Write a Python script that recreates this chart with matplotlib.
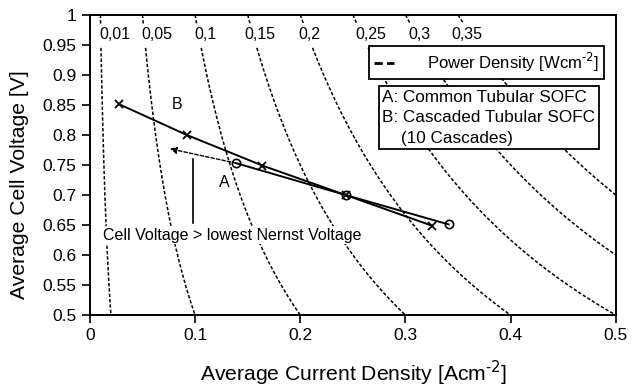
"""
Cell voltage vs current density, common vs cascaded tubular SOFC,
with iso-power-density lines in the background.
"""

import numpy as np
import matplotlib
matplotlib.use('Agg')
import matplotlib.pyplot as plt
from matplotlib.lines import Line2D
from matplotlib.ticker import FormatStrFormatter, MultipleLocator

plt.rcParams['font.family'] = ['Liberation Sans', 'DejaVu Sans']

# ── DATA ─────────────────────────────────────────────────────────────────────

# A: common tubular SOFC (circles)
i_a = [0.139, 0.243, 0.341]
v_a = [0.753, 0.700, 0.651]

# B: cascaded tubular SOFC, 10 cascades (crosses)
i_b = [0.028, 0.092, 0.164, 0.243, 0.325]
v_b = [0.851, 0.800, 0.749, 0.700, 0.649]

# power density iso-lines [W/cm2] and their label positions (top row)
power_levels = [0.01, 0.05, 0.1, 0.15, 0.2, 0.25, 0.3, 0.35]
power_labels = ['0,01', '0,05', '0,1', '0,15', '0,2', '0,25', '0,3', '0,35']
label_x      = [0.024, 0.064, 0.110, 0.162, 0.209, 0.267, 0.313, 0.358]

# ── PLOT ─────────────────────────────────────────────────────────────────────

fig = plt.figure(figsize=(6.33, 3.90), dpi=100)
ax = fig.add_axes([0.142, 0.192, 0.831, 0.770])

# iso-power lines P = i * V, broken where the labels sit
xs = np.linspace(0.0, 0.52, 400)
for ys in (np.linspace(0.5, 0.945, 200), np.linspace(0.985, 1.0, 20)):
    X, Y = np.meshgrid(xs, ys)
    ax.contour(X, Y, X * Y, levels=power_levels, colors='black',
               linewidths=1.1, linestyles=[(0, (2.2, 1.3))])
for lx, lab in zip(label_x, power_labels):
    ax.text(lx, 0.967, lab, ha='center', va='center', fontsize=11.5)

# curves
ax.plot(i_b, v_b, color='black', lw=1.4, marker='x', ms=6, mew=1.3, zorder=4)
ax.plot(i_a, v_a, color='black', lw=1.4, marker='o', ms=6, mew=1.2,
        mfc='none', zorder=4)

# dashed arrow from first A point
ax.annotate('', xy=(0.076, 0.777), xytext=(i_a[0], v_a[0]),
            arrowprops=dict(arrowstyle='-|>', color='black', lw=1.0,
                            linestyle=(0, (2.5, 1.5)), mutation_scale=10,
                            shrinkA=0, shrinkB=0))
ax.plot([0.098, 0.098], [0.653, 0.760], color='black', lw=1.2)
ax.text(0.012, 0.633, 'Cell Voltage > lowest Nernst Voltage',
        ha='left', va='center', fontsize=11.5, zorder=5,
        bbox=dict(boxstyle='square,pad=0.1', fc='white', ec='none'))
ax.text(0.128, 0.720, 'A', ha='center', va='center', fontsize=11.5)
ax.text(0.083, 0.850, 'B', ha='center', va='center', fontsize=11.5)

# legend boxes
leg = ax.legend([Line2D([0], [0], color='black', lw=2, linestyle=(0, (3, 1.5)))],
                ['Power Density [Wcm$^{\\text{-}2}$]'], loc='upper right',
                bbox_to_anchor=(0.977, 0.897), frameon=True, fancybox=False,
                edgecolor='black', framealpha=1, fontsize=12,
                handlelength=1.2, handletextpad=2.0, borderpad=0.3,
                borderaxespad=0)
leg.get_frame().set_linewidth(1.3)
ax.text(0.556, 0.750,
        'A: Common Tubular SOFC\nB: Cascaded Tubular SOFC\n    (10 Cascades)',
        transform=ax.transAxes, ha='left', va='top', fontsize=12.3,
        linespacing=1.45, zorder=5,
        bbox=dict(boxstyle='square,pad=0.2', fc='white', ec='black', lw=1.3))

# axes
ax.set_xlim(0, 0.5)
ax.set_ylim(0.5, 1.0)
ax.xaxis.set_major_locator(MultipleLocator(0.1))
ax.yaxis.set_major_locator(MultipleLocator(0.05))
ax.xaxis.set_major_formatter(FormatStrFormatter('%g'))
ax.yaxis.set_major_formatter(FormatStrFormatter('%g'))
ax.tick_params(direction='out', length=6, width=1.2, labelsize=12.5)
for s in ax.spines.values():
    s.set_linewidth(1.4)
ax.set_xlabel('Average Current Density [Acm$^{\\text{-}2}$]', fontsize=15.2,
              va='center')
ax.set_ylabel('Average Cell Voltage [V]', fontsize=15.2, va='center',
              ha='center')
ax.xaxis.set_label_coords(0.502, -0.193)
ax.yaxis.set_label_coords(-0.133, 0.433)

plt.savefig('out.png', dpi=100)
